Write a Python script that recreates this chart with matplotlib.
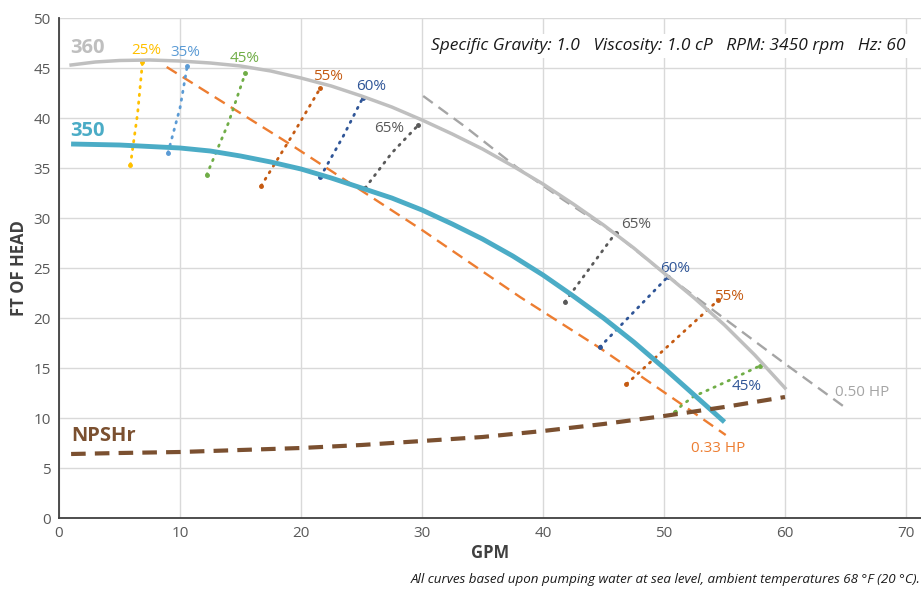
import matplotlib.pyplot as plt

plt.rcParams['font.family'] = ['Open Sans', 'DejaVu Sans']

# Head curves (GPM, ft)
q360 = [1, 3, 5, 7.5, 10, 12.5, 15, 17.5, 20, 22.5, 25, 27.5, 30, 32.5, 35, 37.5,
        40, 42.5, 45, 47.5, 50, 52.5, 55, 57.5, 60]
h360 = [45.3, 45.6, 45.75, 45.8, 45.7, 45.5, 45.2, 44.7, 44.0, 43.2, 42.2, 41.1, 39.8,
        38.4, 36.9, 35.2, 33.4, 31.4, 29.3, 27.0, 24.5, 22.0, 19.3, 16.3, 13.0]
q350 = [1, 5, 10, 12.5, 15, 17.5, 20, 22.5, 25, 27.5, 30, 32.5, 35, 37.5, 40, 42.5,
        45, 47.5, 50, 52.5, 55]
h350 = [37.4, 37.3, 37.0, 36.7, 36.2, 35.6, 34.9, 34.0, 33.0, 32.0, 30.8, 29.4, 27.9,
        26.2, 24.3, 22.2, 20.0, 17.6, 15.0, 12.3, 9.6]

# NPSHr
q_npsh = [1, 5, 10, 15, 20, 25, 30, 35, 40, 45, 50, 55, 60]
h_npsh = [6.4, 6.5, 6.6, 6.8, 7.0, 7.3, 7.7, 8.1, 8.7, 9.4, 10.2, 11.1, 12.1]

# Horsepower lines
q_hp33 = [8.9, 19.2, 30, 38.1, 44.7, 51.9, 55.1]
h_hp33 = [45.1, 37.3, 28.8, 22.1, 17.0, 11.0, 8.3]
q_hp50 = [30.1, 33.6, 37.8, 41.7, 46, 50.3, 53.6, 59.8, 64.8]
h_hp50 = [42.2, 39.1, 35.1, 31.8, 28.4, 24.2, 21.2, 15.6, 11.2]

# Efficiency iso-lines
eff_labels = ['25%', '35%', '45%', '55%', '60%', '65%',
              '65%', '60%', '55%', '45%']
eff_colors = ['#FFC000', '#5B9BD5', '#70AD47', '#C55A11', '#2F5597', '#595959',
              '#595959', '#2F5597', '#C55A11', '#70AD47']
eff_x = [[5.9, 6.5, 6.9], [9.0, 10.0, 10.6], [12.2, 14.0, 15.4], [16.7, 19.3, 21.6],
         [21.6, 23.5, 25.1], [25.3, 27.5, 29.7],
         [41.8, 46.0], [44.7, 50.3], [46.9, 54.5],
         [50.9, 51.5, 52.5, 53.1, 55.1, 57.9]]
eff_y = [[35.3, 40.5, 45.6], [36.5, 41.0, 45.2], [34.3, 39.5, 44.5], [33.2, 38.3, 43.0],
         [34.1, 38.2, 42.0], [33.0, 36.5, 39.3],
         [21.6, 28.5], [17.1, 24.1], [13.4, 21.8],
         [10.6, 11.3, 12.2, 12.5, 13.6, 15.2]]
eff_lab_x = [7.2, 10.4, 15.3, 22.2, 25.8, 27.3, 47.7, 50.9, 55.4, 56.8]
eff_lab_y = [46.7, 46.5, 45.9, 44.2, 43.1, 38.9, 29.3, 24.9, 22.2, 13.2]
eff_lab_colors = ['#FFC000', '#5B9BD5', '#70AD47', '#C55A11', '#2F5597', '#595959',
                  '#595959', '#2F5597', '#C55A11', '#2F5597']

fig = plt.figure(figsize=(9.21, 5.89), dpi=100)
ax = fig.add_axes([59 / 921, 71 / 589, 1 - 59 / 921, 500 / 589])

for lab, c, xs, ys, lx, ly, lc in zip(eff_labels, eff_colors, eff_x, eff_y,
                                      eff_lab_x, eff_lab_y, eff_lab_colors):
    ax.plot(xs, ys, color=c, lw=2, linestyle=(0, (0.5, 2.3)),
            dash_capstyle='round', zorder=3)
    ax.plot([xs[0], xs[-1]], [ys[0], ys[-1]], 'o', color=c, ms=2.5, zorder=3)
    ax.text(lx, ly, lab, color=lc, fontsize=11, ha='center', va='center')

ax.plot(q_hp33, h_hp33, color='#ED7D31', lw=1.7, dashes=(5, 3), zorder=2)
ax.plot(q_hp50, h_hp50, color='#A5A5A5', lw=1.7, dashes=(5, 3), zorder=2)
ax.plot(q360, h360, color='#BFBFBF', lw=2.5, zorder=4)
ax.plot(q350, h350, color='#4BACC6', lw=3.5, solid_capstyle='butt',
        solid_joinstyle='round', zorder=4)
ax.plot(q_npsh, h_npsh, color='#7B5030', lw=3, dashes=(3.5, 2.2), zorder=4)

ax.text(0.9, 47, '360', color='#BFBFBF', fontsize=14.5, fontweight='bold',
        ha='left', va='center')
ax.text(0.9, 38.7, '350', color='#4BACC6', fontsize=14.5, fontweight='bold',
        ha='left', va='center')
ax.text(1.0, 8.2, 'NPSHr', color='#7B5030', fontsize=14.5, fontweight='bold',
        ha='left', va='center')
ax.text(54.5, 6.9, '0.33 HP', color='#ED7D31', fontsize=11, ha='center', va='center')
ax.text(66.4, 12.5, '0.50 HP', color='#A5A5A5', fontsize=11, ha='center', va='center')

ax.text(70.0, 47.2, 'Specific Gravity: 1.0   Viscosity: 1.0 cP   RPM: 3450 rpm   Hz: 60',
        fontsize=12.5, style='italic', color='#1A1A1A', ha='right', va='center',
        bbox=dict(facecolor='white', edgecolor='none', pad=3), zorder=5)

ax.set_xlim(0, 71.24)
ax.set_ylim(0, 50)
ax.set_xticks(range(0, 71, 10))
ax.set_yticks(range(0, 51, 5))
ax.grid(True, color='#D9D9D9', lw=1)
ax.set_axisbelow(True)
ax.tick_params(length=0, labelsize=11, labelcolor='#595959', pad=6)
for s in ['top', 'right']:
    ax.spines[s].set_visible(False)
for s in ['left', 'bottom']:
    ax.spines[s].set_color('#404040')
    ax.spines[s].set_linewidth(1.3)

ax.set_xlabel('GPM', fontsize=12, fontweight='bold', color='#404040', labelpad=2)
ax.set_ylabel('FT OF HEAD', fontsize=12, fontweight='bold', color='#404040', labelpad=4)

fig.text(1.0, 1 - 580 / 589, 'All curves based upon pumping water at sea level, '
         'ambient temperatures 68 °F (20 °C).', fontsize=9.6, style='italic',
         color='#1A1A1A', ha='right', va='center')

fig.savefig('out.png', dpi=100)
